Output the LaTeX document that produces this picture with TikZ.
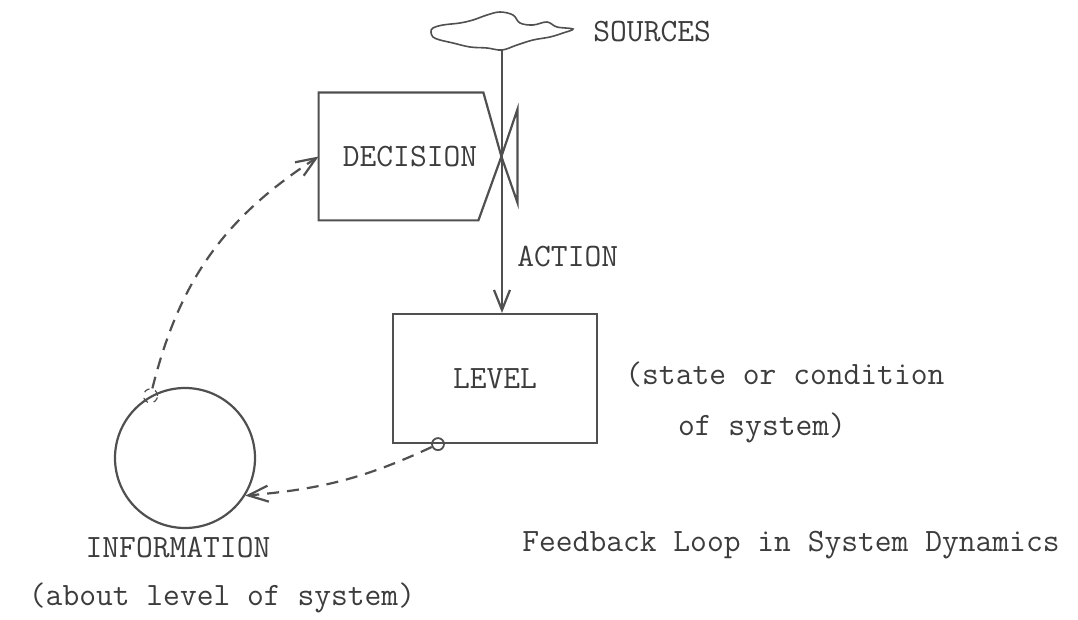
\documentclass[tikz,border=0pt]{standalone}
\usepackage{fontspec}
\usepackage{xcolor}
\usepackage{tikz}
\usetikzlibrary{arrows.meta}
\definecolor{pencil}{RGB}{80,80,80}
\definecolor{ink}{RGB}{60,60,60}

\begin{document}
\begin{tikzpicture}[x=0.5pt, y=-0.5pt,
    txt/.style={text=ink, font=\ttfamily\fontsize{16.3}{19}\selectfont, inner sep=0pt},
    boxline/.style={draw=pencil, line width=1.1pt},
    infoline/.style={draw=pencil, line width=1.1pt, dash pattern=on 6pt off 4pt},
    tip/.style={-{Straight Barb[length=10pt, width=8pt]}},
    tapring/.style={circle, draw=pencil, line width=0.9pt, inner sep=0pt, minimum size=6pt}]
    \useasboundingbox (0,0) rectangle (1078,620);

    % Reja
    \draw[boxline, line width=0.8pt] plot[smooth cycle, tension=0.6] coordinates {
        (433,28) (443,25) (460,23) (473,20) (487,15) (500,12) (513,15) (520,23)
        (533,25) (547,22) (557,27) (573,29) (563,33) (550,37) (533,40) (517,45)
        (502,50) (487,48) (470,47) (453,43) (440,40) (433,37) (431,32)};
    \coordinate (src) at (502,50);
    \node[txt, anchor=west] (srclbl) at (593,32) {SOURCES};

    % Kutia vendim
    \node[txt, minimum width=91pt, minimum height=63.5pt] (decision) at (410,156.5) {DECISION};
    \draw[boxline] (decision.north west) -- ([xshift=-9pt]decision.north east)
        -- (decision.east) -- ([xshift=-11.5pt]decision.south east)
        -- (decision.south west) -- cycle;

    % Valvula
    \draw[boxline] (decision.east) -- ++(16,-47) -- ++(0,93) -- cycle;

    % Kutia niveli
    \node[txt, boxline, minimum width=102pt, minimum height=64.5pt] (level) at (495,378.5) {LEVEL};
    \node[tapring] (lvtap) at ([xshift=-28.5pt]level.south) {};

    % Rrethi informacion
    \node[circle, boxline, minimum size=70pt] (info) at (185,458) {};
    \node[tapring, line width=0.6pt, dashed, minimum size=7pt] (infotap) at (info.119) {};

    % Shigjetat
    \draw[boxline, tip] (src) -- (src |- level.north);
    \draw[infoline, tip] (infotap) to[out=76, in=213] (decision.west);
    \draw[infoline, tip] (lvtap) to[out=205, in=5] (info.-32);

    % Tekstet
    \node[txt, anchor=west] (action) at (517,257) {ACTION};
    \node[txt, anchor=west] (state) at (625,375) {(state or condition};
    \node[txt] (ofsys) at (762,428) {of system)};
    \node[txt] (infolbl) at (178,548) {INFORMATION};
    \node[txt] (about) at (222,598) {(about level of system)};
    \node[txt, anchor=east] (title) at (1060,545) {Feedback Loop in System Dynamics};
\end{tikzpicture}
\end{document}
